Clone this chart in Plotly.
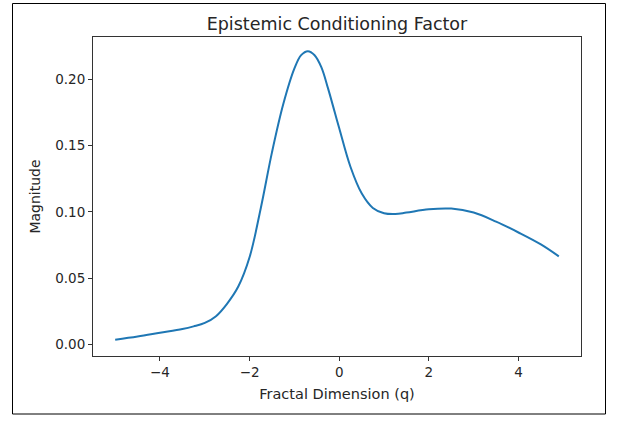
import plotly.graph_objects as go

q_values = [-5, -4.5, -4, -3.5, -3.25, -3, -2.75, -2.5, -2.25, -2, -1.75, -1.5, -1.25, -1,
            -0.85, -0.7, -0.55, -0.4, -0.25, -0.1, 0, 0.25, 0.5, 0.75, 1, 1.25, 1.5,
            2, 2.5, 3, 3.5, 4, 4.5, 4.9]
magnitude = [0.0038, 0.0062, 0.0090, 0.0118, 0.0138, 0.0164, 0.0215, 0.031, 0.044, 0.066,
             0.103, 0.145, 0.181, 0.208, 0.218, 0.221, 0.218, 0.209, 0.193, 0.175,
             0.163, 0.134, 0.114, 0.103, 0.0990, 0.0984, 0.0995, 0.1020, 0.1025,
             0.0995, 0.0927, 0.0845, 0.0755, 0.0665]

x_ticks = [-4, -2, 0, 2, 4]
x_tick_labels = ["\u22124", "\u22122", "0", "2", "4"]
y_ticks = [0.00, 0.05, 0.10, 0.15, 0.20]
y_tick_labels = ["0.00", "0.05", "0.10", "0.15", "0.20"]

title = "Epistemic Conditioning Factor"
x_title = "Fractal Dimension (q)"
y_title = "Magnitude"

font_family = "DejaVu Sans"
axis_color = "#333333"
text_color = "#262626"

fig = go.Figure()
fig.add_trace(go.Scatter(x=q_values, y=magnitude, mode="lines",
                         line=dict(color="#1f77b4", width=2, shape="spline", smoothing=1.0),
                         hoverinfo="skip", showlegend=False))

W, H = 622, 421
L, R, T, B = 93, 41, 37, 65
pw, ph = W - L - R, H - T - B

def px(x):
    return (x - L) / pw

def py(y):
    return (H - B - y) / ph

fig.add_shape(type="rect", xref="paper", yref="paper",
              x0=px(12.5), x1=px(605.5), y0=py(414), y1=py(3.5),
              line=dict(color="black", width=1), fillcolor="rgba(0,0,0,0)")

fig.update_layout(
    width=W, height=H,
    margin=dict(l=L, r=R, t=T, b=B),
    paper_bgcolor="white", plot_bgcolor="white",
    font=dict(family=font_family, size=14, color=text_color),
    title=dict(text=title, x=(L + pw / 2) / W, xanchor="center", y=1 - 24 / H, yanchor="middle",
               font=dict(size=17.5, family=font_family, color=text_color)),
    xaxis=dict(range=[-5.495, 5.395], tickvals=x_ticks, ticktext=x_tick_labels,
               showgrid=False, zeroline=False, showline=True, mirror=True,
               linecolor=axis_color, linewidth=1, ticks="outside", ticklen=4,
               tickcolor=axis_color, tickfont=dict(size=13.5),
               title=dict(text=x_title, font=dict(size=14.5), standoff=9)),
    yaxis=dict(range=[-0.0085, 0.2317], tickvals=y_ticks, ticktext=y_tick_labels,
               showgrid=False, zeroline=False, showline=True, mirror=True,
               linecolor=axis_color, linewidth=1, ticks="outside", ticklen=4,
               tickcolor=axis_color, tickfont=dict(size=13.5),
               title=dict(text=y_title, font=dict(size=14), standoff=11)),
)

fig.write_html("out.html", config={"displayModeBar": False},
               post_script="document.body.style.margin='0';document.body.style.overflow='hidden';")
